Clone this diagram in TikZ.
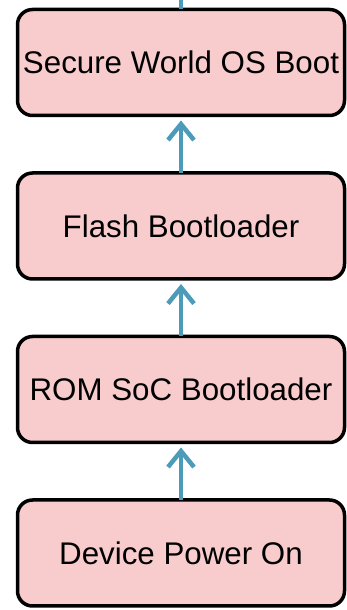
\documentclass[tikz,border=0pt]{standalone}
\usepackage{fontspec}
\setmainfont{Liberation Sans}
\usetikzlibrary{positioning, arrows.meta}

\definecolor{bootpink}{RGB}{248,203,205}
\definecolor{bootblue}{RGB}{75,155,185}

\begin{document}
\begin{tikzpicture}[x=1pt, y=1pt,
	stage/.style={draw=black, line width=3.5pt, rounded corners=15pt, fill=bootpink,
		minimum width=327pt, minimum height=106pt, inner sep=0pt, outer sep=0pt,
		font=\fontsize{31.3}{36}\selectfont},
	up/.style={draw=bootblue, line width=4.5pt, arrows={-{Straight Barb[length=16pt, width=26pt]}}}]
	\useasboundingbox (0,0) rectangle (346,610);
	\node [stage] (power) at (181,57) {Device Power On};
	\node [stage, above=57.5pt of power] (rom) {ROM SoC Bootloader};
	\node [stage, above=57.5pt of rom] (flash) {Flash Bootloader};
	\node [stage, above=57.5pt of flash] (secure) {Secure World OS Boot};
	\coordinate [above=12pt of secure] (next);
	\draw [up, shorten >=5pt] (power) -- (rom);
	\draw [up, shorten >=5pt] (rom) -- (flash);
	\draw [up, shorten >=5pt] (flash) -- (secure);
	\draw [draw=bootblue, line width=4.5pt] (secure) -- (next);
\end{tikzpicture}
\end{document}
